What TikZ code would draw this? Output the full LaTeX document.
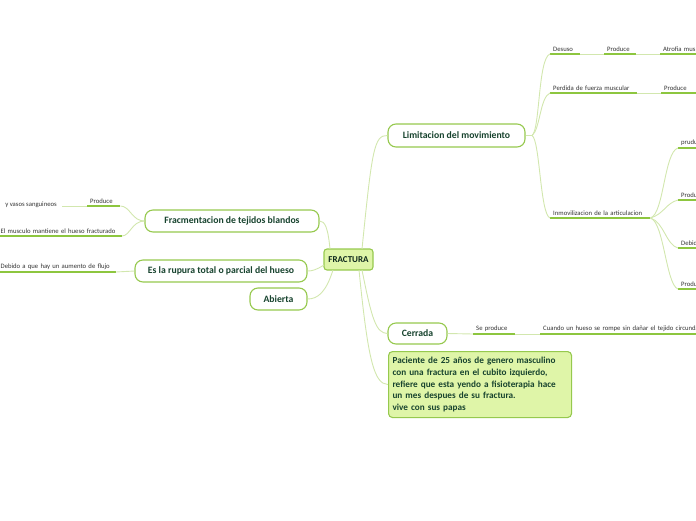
\documentclass[tikz,border=0pt]{standalone}
\usepackage{fontspec}
\setmainfont{Carlito}
\definecolor{bordergreen}{HTML}{96C94E}
\definecolor{fillgreen}{HTML}{DFF5A8}
\definecolor{maintext}{HTML}{17432E}
\definecolor{leaftext}{HTML}{333333}
\definecolor{ulgreen}{HTML}{8DC63F}
\definecolor{conngreen}{HTML}{D2E7AE}
\begin{document}
\begin{tikzpicture}[x=1pt,y=-1pt,
  mainbox/.style={draw=bordergreen, line width=1.1pt, rounded corners=8pt, fill=white,
    text=maintext, font=\fontsize{9.7}{11}\selectfont\bfseries, inner sep=0pt},
  rootbox/.style={draw=bordergreen, line width=1.1pt, rounded corners=3pt, fill=fillgreen,
    text=maintext!60!black, font=\fontsize{9}{10}\selectfont\bfseries, inner sep=0pt},
  notebox/.style={draw=bordergreen, line width=1.1pt, rounded corners=4pt, fill=fillgreen,
    text=maintext, font=\fontsize{9.2}{11.8}\selectfont\bfseries, inner sep=4pt, align=left, anchor=north west},
  leaf/.style={anchor=south west, inner xsep=3pt, inner ysep=2.2pt, text width=#1,
    font=\fontsize{6.7}{7.5}\selectfont, text=leaftext, align=left},
  uline/.style={draw=ulgreen, line width=1.4pt},
  conn/.style={draw=conngreen, line width=0.9pt}
]
\useasboundingbox (0,0) rectangle (696,520);
\clip (0,0) rectangle (696,520);

% ---------- main nodes ----------
\node[rootbox, minimum width=49pt, minimum height=21pt] (root) at (348.5,259.5) {FRACTURA};
\node[mainbox, minimum width=137pt, minimum height=23pt] (lim) at (456.5,135.5) {Limitacion del movimiento};
\node[mainbox, minimum width=59pt, minimum height=21pt] (cer) at (417.5,333.5) {Cerrada};
\node[notebox, text width=175pt, minimum height=66pt] (note) at (388,351) {Paciente de 25 años de genero masculino\\con una fractura en el cubito izquierdo,\\refiere que esta yendo a fisioterapia hace\\un mes despues de su fractura.\\vive con sus papas};
\node[mainbox, minimum width=174pt, minimum height=22pt] (frac) at (232,221) {Fracmentacion de tejidos blandos};
\node[mainbox, minimum width=172pt, minimum height=22pt] (rup) at (221,271) {Es la rupura total o parcial del hueso};
\node[mainbox, minimum width=57pt, minimum height=22pt] (abi) at (278.5,299) {Abierta};

% ---------- right leaves ----------
\node[leaf=24pt] (desuso) at (550,54) {Desuso};
\node[leaf=26pt] (prod1) at (604,54) {Produce};
\node[leaf=40pt] (atro) at (660,54) {Atrofia mus};
\node[leaf=81pt] (perd) at (550,93) {Perdida de fuerza muscular};
\node[leaf=40pt] (prod2) at (661,93) {Produce};
\node[leaf=94pt] (inmo) at (550,218) {Inmovilizacion de la articulacion};
\node[leaf=20pt] (i1) at (678,148) {pruduc};
\node[leaf=20pt] (i2) at (678,200) {Produc};
\node[leaf=20pt] (i3) at (678,248) {Debido};
\node[leaf=20pt] (i4) at (678,289) {Produc};
\node[leaf=36pt] (sepr) at (473,334) {Se produce};
\node[leaf=170pt] (cuan) at (540,334) {Cuando un hueso se rompe sin dañar el tejido circunda};

% ---------- left leaves ----------
\node[leaf=27pt] (prodl) at (87,206) {Produce};
\node[anchor=east, inner sep=0pt, font=\fontsize{6.7}{7.5}\selectfont, text=leaftext] (vasos) at (57,204.5) {y vasos sanguineos};
\coordinate (vasose) at (62,206);
\node[leaf=118pt] (musc) at (-2.5,236) {El musculo mantiene el hueso fracturado};
\node[leaf=112pt] (debi) at (-2.5,272) {Debido a que hay un aumento de flujo};

% ---------- underlines ----------
\foreach \n in {desuso,prod1,atro,perd,prod2,inmo,i1,i2,i3,i4,sepr,cuan,prodl,musc,debi}
  \draw[uline] (\n.south west) -- (\n.south east);

% ---------- connectors ----------
% root to children
\draw[conn] (362,249) .. controls (372,150) and (374,135) .. (lim.west);
\draw[conn] (362,270) .. controls (372,320) and (376,333) .. (cer.west);
\draw[conn] (359,270) .. controls (368,360) and (374,384) .. (note.west);
\draw[conn] (330,249) .. controls (328,228) and (325,221) .. (frac.east);
\draw[conn] (324,265) .. controls (316,270) and (312,271) .. (rup.east);
\draw[conn] (333,270) .. controls (326,292) and (318,299) .. (abi.east);
% Limitacion branches
\draw[conn] (lim.east) -- (532,135.5);
\draw[conn] (532,135.5) .. controls (540,130) and (538,58) .. (desuso.south west);
\draw[conn] (532,135.5) .. controls (540,130) and (540,97) .. (perd.south west);
\draw[conn] (532,135.5) .. controls (540,140) and (540,214) .. (inmo.south west);
\draw[conn] (desuso.south east) -- (prod1.south west);
\draw[conn] (prod1.south east) -- (atro.south west);
\draw[conn] (perd.south east) -- (prod2.south west);
% Inmovilizacion branches
\draw[conn] (inmo.south east) .. controls (664,214) and (664,152) .. (i1.south west);
\draw[conn] (inmo.south east) .. controls (664,214) and (666,203) .. (i2.south west);
\draw[conn] (inmo.south east) .. controls (664,222) and (666,245) .. (i3.south west);
\draw[conn] (inmo.south east) .. controls (664,222) and (666,285) .. (i4.south west);
% Cerrada
\draw[conn] (cer.east) -- (sepr.south west);
\draw[conn] (sepr.south east) -- (cuan.south west);
% left
\draw[conn] (frac.west) .. controls (132,221) and (130,206) .. (prodl.south east);
\draw[conn] (frac.west) .. controls (132,221) and (130,236) .. (musc.south east);
\draw[conn] (prodl.south west) -- (vasose);
\draw[conn] (rup.west) -- (debi.south east);
\end{tikzpicture}
\end{document}
